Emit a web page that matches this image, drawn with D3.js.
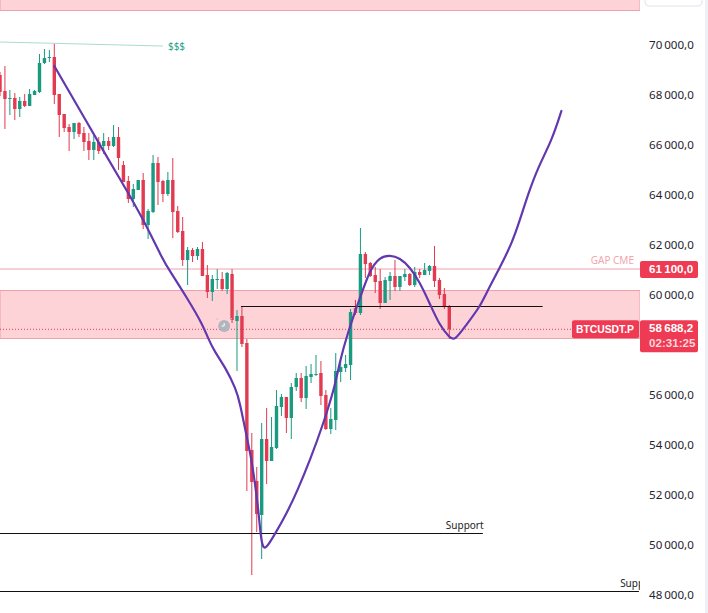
<!DOCTYPE html>
<html>
<head>
<meta charset="utf-8">
<script src="https://cdn.jsdelivr.net/npm/d3@7"></script>
<style>
  html, body { margin: 0; background: #fff; }
  svg { display: block; }
  text { font-family: "Noto Sans", sans-serif; }
  .tick text { font-size: 11.6px; fill: #1f2430; }
  .tagtext { font-family: "Liberation Sans", sans-serif; font-size: 11.6px; }
</style>
</head>
<body>
<svg id="chart" width="708" height="613"></svg>
<script>
// candles (BTCUSDT.P)
const opens = [68860,68220,67900,67940,67500,67820,67620,68060,68180,69340,69540,69580,68100,67300,66780,66580,66940,66540,66220,65860,66180,66020,66220,66020,66380,65260,64620,63900,64260,64660,62860,63380,65340,64620,64100,64660,63420,62620,61460,61860,61620,61900,60860,60180,60660,60700,60300,60900,59020,59220,58140,53860,52620,51260,54300,53420,53940,55580,55980,55140,56380,56740,55940,56780,56860,56940,56060,54700,55060,56980,57140,57260,59540,59340,61700,61340,60860,60620,59740,60620,60820,60380,60780,60900,60460,60980,60860,61020,61220,60660,60100,59620];
const highs = [68980,69220,68260,68140,67980,68100,68300,68260,69700,69900,69860,70100,68100,67300,66900,66940,66980,66780,66540,66460,66380,66540,66380,66860,66780,65420,64820,64500,64660,64940,63500,65660,65580,64660,64980,65540,63620,63180,61980,61940,61980,62180,61260,60860,61100,60980,60980,61100,59460,59580,58300,54540,53180,54940,55540,55180,56260,56100,55980,56540,56940,56940,57220,57300,57660,57420,56260,55540,57740,57460,57660,59500,59860,62740,61780,61380,61180,61100,60780,60980,61460,60820,61100,60940,61180,61100,61340,61260,62020,60740,60340,59660];
const lows = [68020,66700,67260,67060,67180,67580,67620,68060,68140,69300,69380,67700,66380,66580,65820,66300,66380,65820,65460,65460,65700,65700,65860,65980,65060,64580,63740,63580,64260,62700,62300,63340,63660,63780,64020,62340,62540,61220,60460,61380,61460,60820,59940,59820,60300,60220,60100,58940,57020,57980,52220,48860,50580,49500,52500,53420,53900,55220,54540,54300,56220,55780,55500,56540,56820,55660,54660,54500,54660,56580,56980,56660,59260,59260,60740,60780,60140,59500,59740,59860,60220,60220,60620,60420,60380,60740,60860,60860,60380,59900,59500,58300];
const closes = [68180,67900,67940,67500,67820,67620,68100,68220,69340,69540,69580,68060,67260,66740,66580,66940,66500,66180,65860,66180,65820,66220,66020,66380,65540,64580,63900,64300,64660,62860,63420,65340,64580,64100,64660,63380,62580,61460,61860,61620,61900,60820,60180,60700,60700,60300,60940,59060,59220,58100,53820,52580,51300,54300,53420,53980,55620,55980,55140,56380,56740,55940,56820,56900,56900,56020,54700,55100,57020,57180,57300,59380,59340,61700,61300,60820,60580,59740,60660,60820,60380,60820,60900,60460,60980,60860,61060,61220,60620,60060,59580,58688];

// hand drawn purple path
const pathBars = [11,21.9,24.3,28.8,33,34.4,37.9,41.1,42.1,43.5,45.6,47.8,48.6,49.8,51,52.3,52.8,53.3,54.1,55.7,58.1,60.3,62.8,65.4,67.8,68.8,70.4,72.9,74.9,76.9,79,81,83,85,87,89,91.1,92.1,94.1,97.2,98.8,101.2,103.7,105.3,106.9,108.9,111.8,113.7];
const pathPrices = [69220,65500,64700,63180,61460,61020,59940,58860,58340,57780,57180,56300,55740,54540,53460,51580,50380,49900,49980,50500,51340,52260,53460,54860,56380,57380,58540,59940,61060,61580,61660,61540,61180,60580,59740,58860,58340,58240,58780,59580,60260,61140,62140,63060,64060,65140,66260,67420];

// 58 000,0 sits behind the price tag in the reference, so it is left out
const tickValues = [48000,50000,52000,54000,56000,60000,62000,64000,66000,68000,70000];
const lastPrice = 58688.2;
const gapPrice = 61100;
const zones = [[60240,58320],[73000,71440]];
// [bar start, bar end, price, label]
const blackLines = [[48.8,109.9,59600,''],[0,97.8,50520,'Support'],[0,129.4,48200,'Support']];
const labelBars = [0,90.3,125.6];

const width = 708, height = 613, plotW = 640;
const red = '#e23a50', green = '#1a9a80', purple = '#6238ae', zoneEdge = '#eea2aa';

const x = d3.scaleLinear().domain([0, 91]).range([0, 449.3]);
const y = d3.scaleLinear().domain([48000, 70000]).range([596.5, 46.5]);

const svg = d3.select('#chart');
svg.append('defs').append('clipPath').attr('id', 'plot')
  .append('rect').attr('width', plotW).attr('height', height);

const plot = svg.append('g').attr('clip-path', 'url(#plot)');

// zones
plot.selectAll('rect.zone').data(zones).join('rect')
  .attr('class', 'zone')
  .attr('x', 0).attr('width', plotW)
  .attr('y', d => y(d[0])).attr('height', d => y(d[1]) - y(d[0]))
  .attr('fill', '#fdd3d8')
  .attr('stroke', zoneEdge);

// gap line
plot.append('line')
  .attr('x1', 0).attr('x2', plotW)
  .attr('y1', y(gapPrice)).attr('y2', y(gapPrice))
  .attr('stroke', zoneEdge);
plot.append('text')
  .attr('x', 634).attr('y', y(gapPrice) - 5)
  .attr('text-anchor', 'end')
  .attr('font-size', 10).attr('fill', '#f2a5ad')
  .text('GAP CME');

// last price line
plot.append('line')
  .attr('x1', 0).attr('x2', 572)
  .attr('y1', y(lastPrice)).attr('y2', y(lastPrice))
  .attr('stroke', red).attr('stroke-dasharray', '1 2');

// $$$ line
plot.append('line')
  .attr('x1', x(0)).attr('x2', x(33))
  .attr('y1', y(70180)).attr('y2', y(70020))
  .attr('stroke', '#a9dcd2').attr('stroke-width', 1.2);
plot.append('text')
  .attr('x', x(33) + 5).attr('y', y(70020) + 4)
  .attr('font-size', 10).attr('fill', '#2aa58d')
  .text('$$$');

// candles
const candles = opens.map((o, i) => ({ i, o, h: highs[i], l: lows[i], c: closes[i] }));
const candle = plot.selectAll('g.candle').data(candles).join('g')
  .attr('class', 'candle')
  .attr('fill', d => d.c >= d.o ? green : red)
  .attr('stroke', d => d.c >= d.o ? green : red);
candle.append('line')
  .attr('x1', d => x(d.i)).attr('x2', d => x(d.i))
  .attr('y1', d => y(d.h)).attr('y2', d => y(d.l))
  .attr('stroke-width', 1);
candle.append('rect')
  .attr('x', d => x(d.i) - 1.7).attr('width', 3.4)
  .attr('y', d => y(Math.max(d.o, d.c)))
  .attr('height', d => Math.max(1, Math.abs(y(d.o) - y(d.c))))
  .attr('stroke', 'none');

// black levels
plot.selectAll('line.level').data(blackLines).join('line')
  .attr('class', 'level')
  .attr('x1', d => x(d[0])).attr('x2', d => x(d[1]))
  .attr('y1', d => y(d[2])).attr('y2', d => y(d[2]))
  .attr('stroke', '#111').attr('stroke-width', 1.1);
plot.selectAll('text.level').data(blackLines.map((d, i) => [...d, labelBars[i]]).filter(d => d[3])).join('text')
  .attr('class', 'level')
  .attr('x', d => x(d[4])).attr('y', d => y(d[2]) - 5)
  .attr('font-size', 10).attr('fill', '#222')
  .text(d => d[3]);

// clock badge
const clock = plot.append('g')
  .attr('transform', `translate(${x(45.4)},${y(58820)})`);
clock.append('circle').attr('r', 6).attr('fill', '#b2b5be');
clock.append('path').attr('d', 'M0,-3V0H-2.5').attr('fill', 'none').attr('stroke', '#fff');
clock.append('path').attr('d', 'M-6,-6L-8,-8M6,-6L8,-8').attr('fill', 'none').attr('stroke', '#c4c6cd');

// purple path
const pathLine = d3.line()
  .x((d, i) => x(pathBars[i]))
  .y(d => y(d))
  .curve(d3.curveBasis);
plot.append('path')
  .attr('d', pathLine(pathPrices))
  .attr('fill', 'none')
  .attr('stroke', purple).attr('stroke-width', 2.2)
  .attr('stroke-linecap', 'round');

// price axis
const fmt = d3.formatLocale({ decimal: ',', thousands: '\u202f', grouping: [3], currency: ['', ''] }).format(',.1f');
const axis = svg.append('g')
  .attr('transform', `translate(${plotW},0)`)
  .call(d3.axisRight(y).tickValues(tickValues).tickSize(0).tickPadding(9).tickFormat(fmt));
axis.select('.domain').remove();
axis.selectAll('text').attr('dy', '0.2em');

// price tags
function tag(x0, y0, w, h) {
  svg.append('rect').attr('x', x0).attr('y', y0).attr('width', w).attr('height', h)
    .attr('rx', 2).attr('fill', '#ee3a52');
}
function tagText(px, py, str, color) {
  return svg.append('text').attr('class', 'tagtext').attr('x', px).attr('y', py)
    .attr('font-weight', 700).attr('fill', color || '#fff').text(str);
}
tag(plotW, y(gapPrice) - 8, 58, 17);
tagText(649, y(gapPrice) + 4, fmt(gapPrice));
tag(572, y(lastPrice) - 9, 67, 18);
tagText(576, y(lastPrice) + 4, 'BTCUSDT.P')
  .attr('textLength', 58).attr('lengthAdjust', 'spacingAndGlyphs');
tag(plotW, y(lastPrice) - 9, 58, 32);
tagText(649, y(lastPrice) + 3, fmt(lastPrice));
tagText(649, y(lastPrice) + 18, '02:31:25', '#fbd5da');

// top right button and window edge
svg.append('rect').attr('x', 645).attr('y', -10).attr('width', 57).attr('height', 16)
  .attr('rx', 4).attr('fill', '#fff').attr('stroke', '#e0e3eb');
svg.append('rect').attr('x', 705).attr('y', 0).attr('width', 3).attr('height', height).attr('fill', '#eef0f5');
</script>
</body>
</html>
